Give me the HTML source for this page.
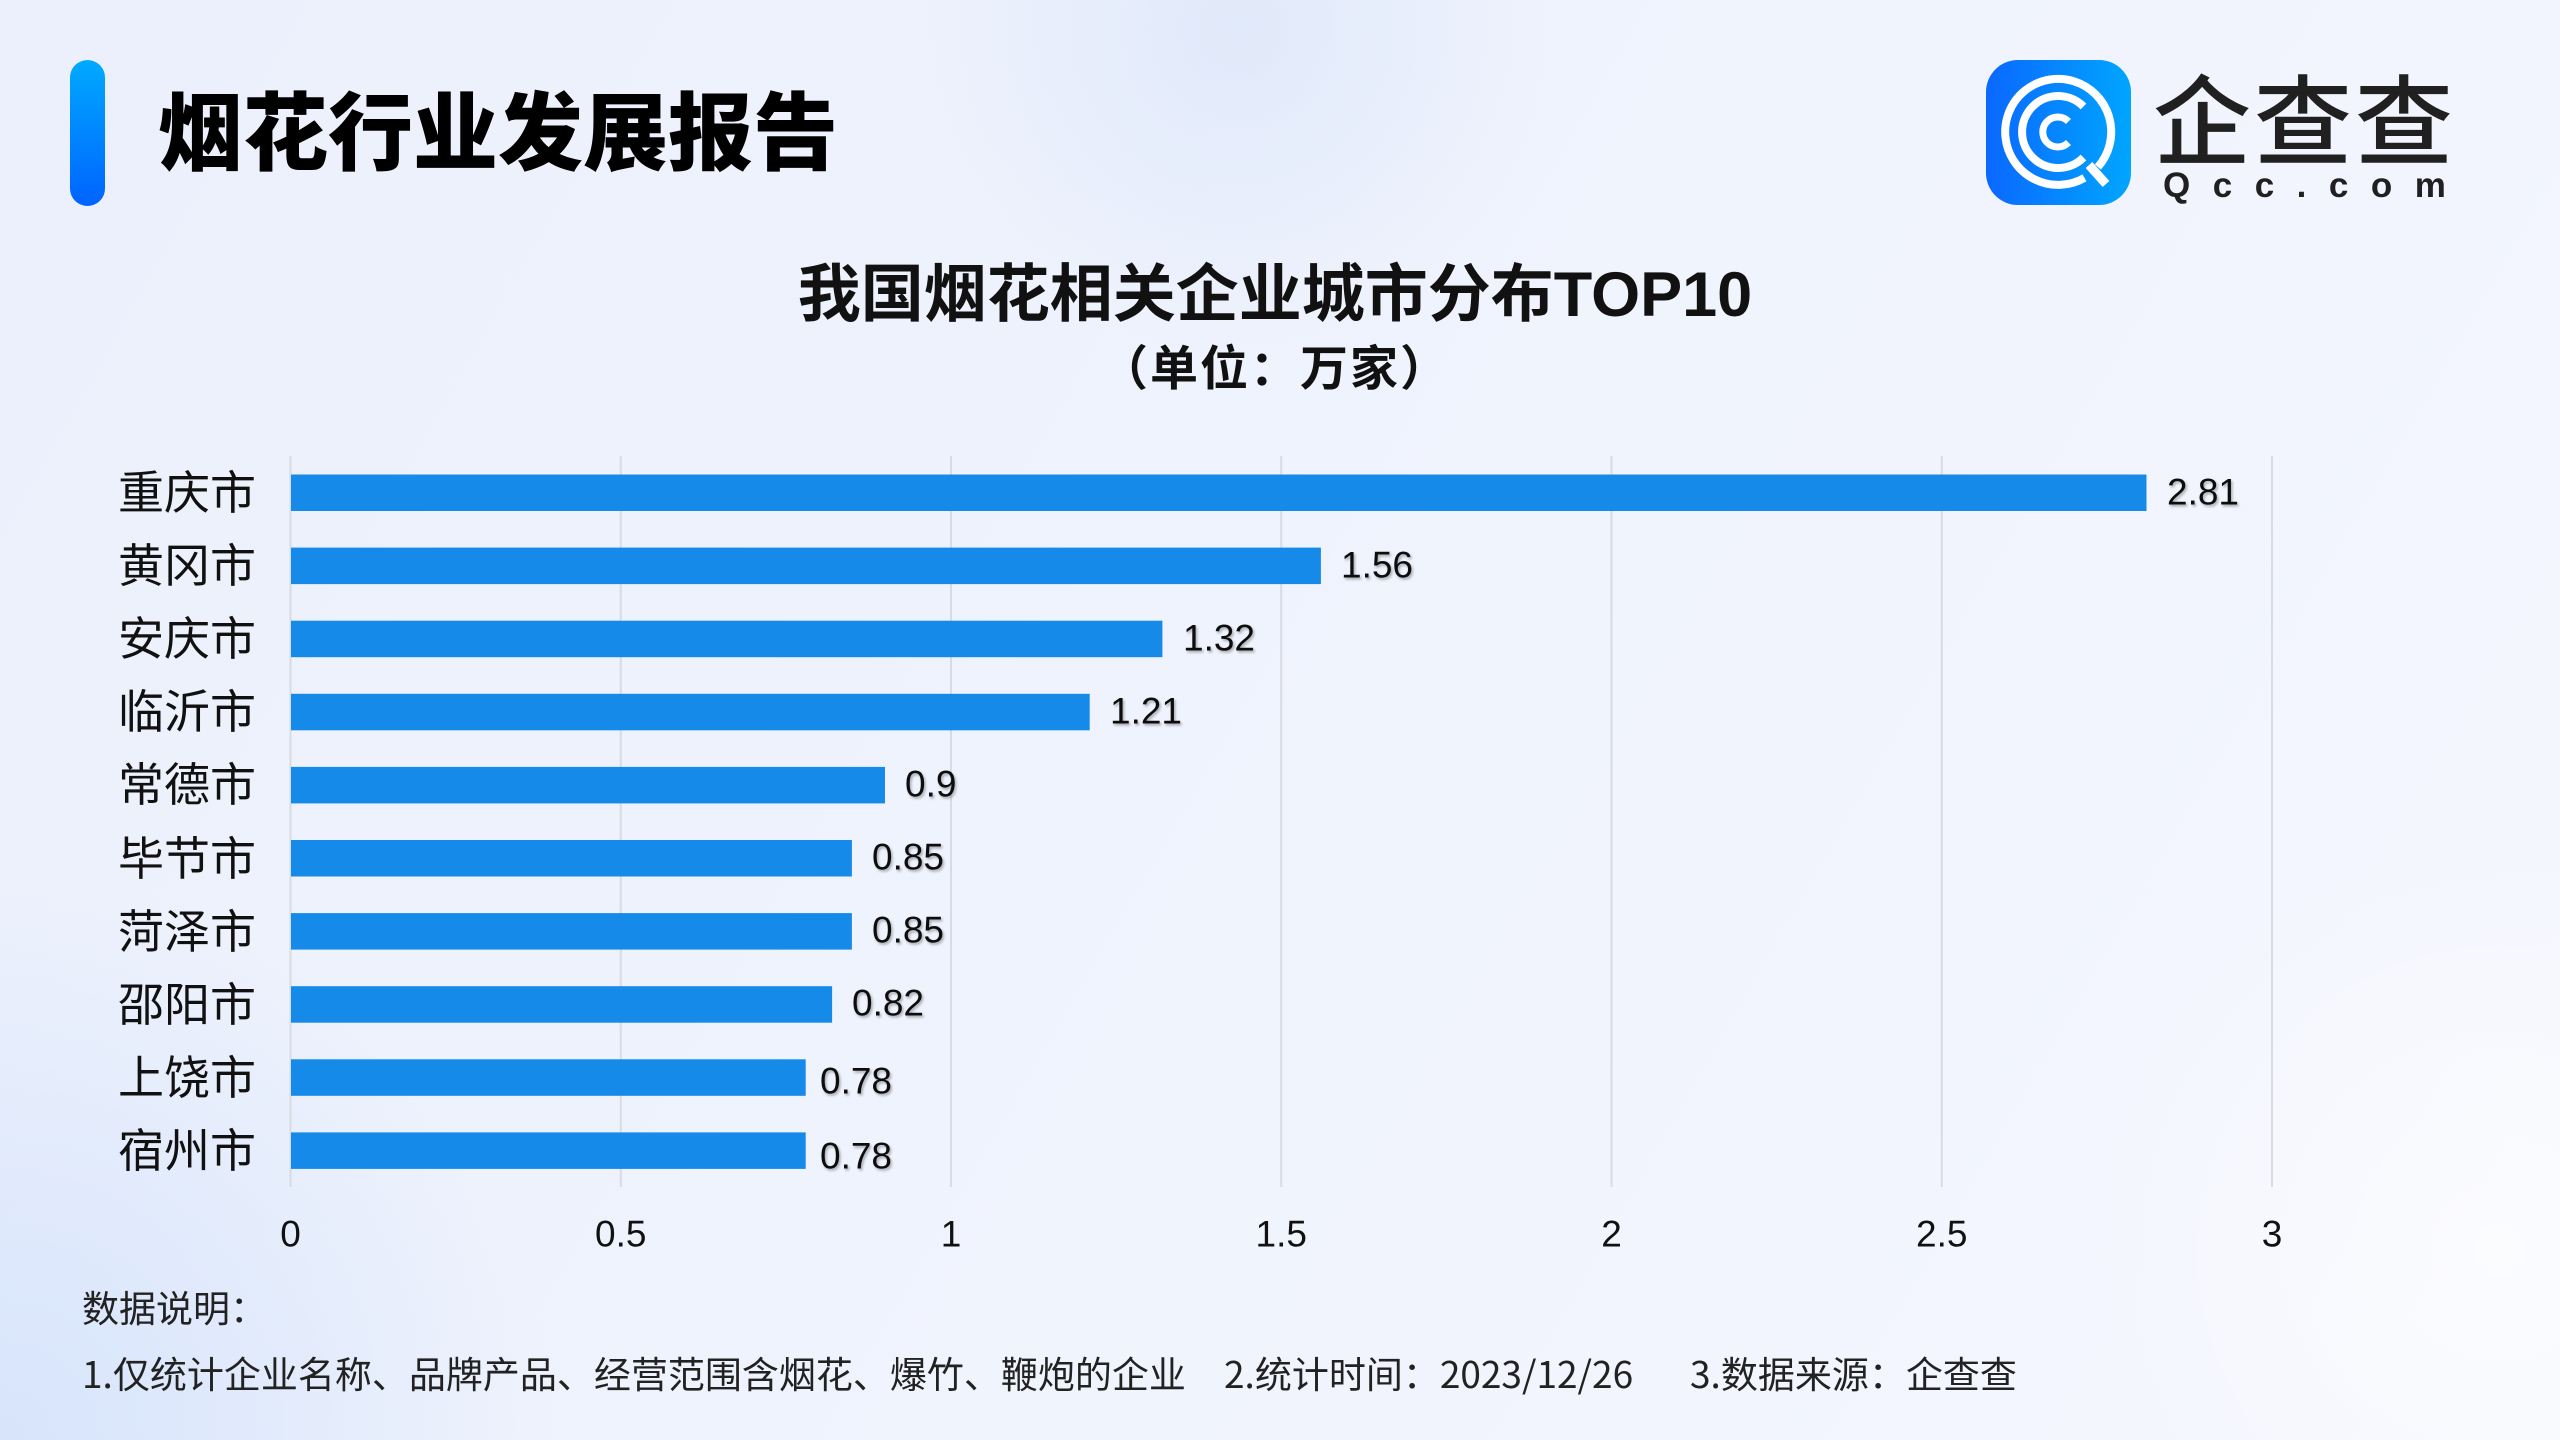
<!DOCTYPE html>
<html>
<head>
<meta charset="utf-8">
<style>
  html, body { margin:0; padding:0; }
  body { width:2560px; height:1440px; overflow:hidden; position:relative;
    background:
      radial-gradient(circle at 1240px 30px, rgba(214,226,248,0.55) 0px, rgba(214,226,248,0) 330px),
      radial-gradient(circle at 0px 1440px, rgba(205,222,250,0.7) 0px, rgba(205,222,250,0) 560px),
      radial-gradient(circle at 2500px 1250px, rgba(255,255,255,0.6) 0px, rgba(255,255,255,0) 420px),
      linear-gradient(120deg, #ebf0fc 0%, #eff3fd 45%, #f5f7fe 100%);
  }
  svg { position:absolute; left:0; top:0; }
</style>
</head>
<body>
<svg width="2560" height="1440" viewBox="0 0 2560 1440" xmlns="http://www.w3.org/2000/svg">
  <defs>
    <linearGradient id="barg" x1="0" y1="0" x2="0" y2="1">
      <stop offset="0" stop-color="#00aaff"/>
      <stop offset="1" stop-color="#0063ff"/>
    </linearGradient>
    <linearGradient id="logog" x1="0" y1="0" x2="1" y2="0">
      <stop offset="0" stop-color="#0a68ff"/>
      <stop offset="1" stop-color="#00a6ff"/>
    </linearGradient>
    <filter id="sh" x="-20%" y="-20%" width="140%" height="140%">
      <feDropShadow dx="1.5" dy="2" stdDeviation="1.2" flood-color="#000" flood-opacity="0.3"/>
    </filter>
  </defs>

  <!-- header -->
  <rect x="70" y="60" width="35" height="146" rx="17.5" fill="url(#barg)"/>
  <text x="158" y="127" font-family="'Noto Sans CJK SC', sans-serif" font-weight="900" font-size="85" fill="#000" dominant-baseline="central">烟花行业发展报告</text>

  <!-- logo -->
  <rect x="1986" y="60" width="145" height="145" rx="32" fill="url(#logog)"/>
  <g fill="none" stroke="#fff" stroke-linecap="butt" transform="translate(2058,132)">
    <!-- outer ring with gap at ~46deg -->
    <path d="M 26.5 45.9 A 53 53 0 1 1 39.9 35.0" stroke-width="8"/>
    <!-- tail -->
    <line x1="31" y1="33" x2="48" y2="52" stroke-width="9"/>
    <!-- middle C -->
    <path d="M 25.5 -25.5 A 36 36 0 1 0 25.5 25.5" stroke-width="8"/>
    <!-- inner C -->
    <path d="M 10.5 -10.5 A 15 15 0 1 0 10.5 10.5" stroke-width="7"/>
  </g>
  <text x="2153" y="115" font-family="'Noto Sans CJK SC', sans-serif" font-weight="500" font-size="98" letter-spacing="3" fill="#202020" dominant-baseline="central">企查查</text>
  <text x="2163" y="197" font-family="'Liberation Sans', sans-serif" font-weight="bold" font-size="35" letter-spacing="22.5" fill="#202020">Qcc.com</text>

  <!-- chart title -->
  <text x="1275" y="295" text-anchor="middle" font-family="'Liberation Sans','Noto Sans CJK SC', sans-serif" font-weight="bold" font-size="63" fill="#111" dominant-baseline="central">我国烟花相关企业城市分布TOP10</text>
  <text x="1275" y="364" text-anchor="middle" font-family="'Noto Sans CJK SC', sans-serif" font-weight="bold" font-size="48" letter-spacing="2" fill="#111" dominant-baseline="central">（单位：万家）</text>

  <!-- gridlines -->
  <g stroke="#d8dbe2" stroke-width="2">
    <line x1="290.5" y1="456" x2="290.5" y2="1187"/>
    <line x1="620.75" y1="456" x2="620.75" y2="1187"/>
    <line x1="951" y1="456" x2="951" y2="1187"/>
    <line x1="1281.25" y1="456" x2="1281.25" y2="1187"/>
    <line x1="1611.5" y1="456" x2="1611.5" y2="1187"/>
    <line x1="1941.75" y1="456" x2="1941.75" y2="1187"/>
    <line x1="2272" y1="456" x2="2272" y2="1187"/>
  </g>

  <!-- bars -->
  <g fill="#168ae9">
    <rect x="291" y="474.5" width="1855.5" height="36.5"/>
    <rect x="291" y="547.6" width="1029.9" height="36.5"/>
    <rect x="291" y="620.7" width="871.4" height="36.5"/>
    <rect x="291" y="693.8" width="798.7" height="36.5"/>
    <rect x="291" y="766.9" width="594" height="36.5"/>
    <rect x="291" y="840" width="560.9" height="36.5"/>
    <rect x="291" y="913.1" width="560.9" height="36.5"/>
    <rect x="291" y="986.2" width="541.1" height="36.5"/>
    <rect x="291" y="1059.3" width="514.7" height="36.5"/>
    <rect x="291" y="1132.4" width="514.7" height="36.5"/>
  </g>

  <!-- value labels -->
  <g font-family="'Liberation Sans', sans-serif" font-size="37" fill="#111" dominant-baseline="central" filter="url(#sh)">
    <text x="2167" y="492">2.81</text>
    <text x="1341" y="565">1.56</text>
    <text x="1183" y="638">1.32</text>
    <text x="1110" y="711">1.21</text>
    <text x="905" y="784">0.9</text>
    <text x="872" y="857">0.85</text>
    <text x="872" y="930">0.85</text>
    <text x="852" y="1003">0.82</text>
    <text x="820" y="1081">0.78</text>
    <text x="820" y="1156">0.78</text>
  </g>

  <!-- category labels -->
  <g font-family="'Noto Sans CJK SC', sans-serif" font-size="46" fill="#111" text-anchor="end" dominant-baseline="central">
    <text x="256" y="490">重庆市</text>
    <text x="256" y="563">黄冈市</text>
    <text x="256" y="636">安庆市</text>
    <text x="256" y="709">临沂市</text>
    <text x="256" y="782">常德市</text>
    <text x="256" y="856">毕节市</text>
    <text x="256" y="929">菏泽市</text>
    <text x="256" y="1002">邵阳市</text>
    <text x="256" y="1075">上饶市</text>
    <text x="256" y="1148">宿州市</text>
  </g>

  <!-- x ticks -->
  <g font-family="'Liberation Sans', sans-serif" font-size="37" fill="#111" text-anchor="middle" dominant-baseline="central">
    <text x="290.5" y="1234">0</text>
    <text x="620.75" y="1234">0.5</text>
    <text x="951" y="1234">1</text>
    <text x="1281.25" y="1234">1.5</text>
    <text x="1611.5" y="1234">2</text>
    <text x="1941.75" y="1234">2.5</text>
    <text x="2272" y="1234">3</text>
  </g>

  <!-- footer -->
  <g font-family="'Noto Sans CJK SC', sans-serif" font-size="37" fill="#222" dominant-baseline="central">
    <text x="82" y="1306">数据说明：</text>
    <text x="82" y="1372">1.仅统计企业名称、品牌产品、经营范围含烟花、爆竹、鞭炮的企业</text>
    <text x="1224" y="1372">2.统计时间：2023/12/26</text>
    <text x="1690" y="1372">3.数据来源：企查查</text>
  </g>
</svg>
</body>
</html>
